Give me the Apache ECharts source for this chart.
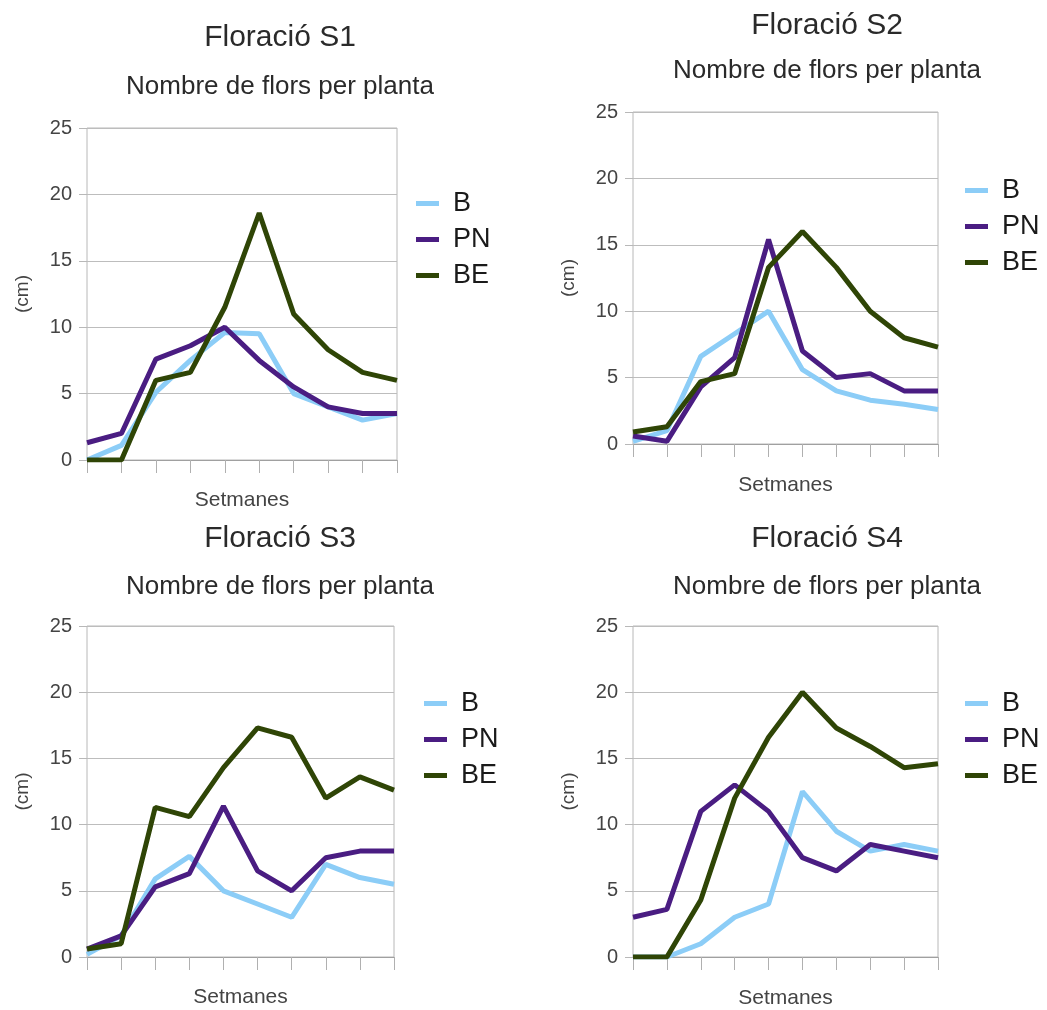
<!DOCTYPE html>
<html>
<head>
<meta charset="utf-8">
<script src="https://cdn.jsdelivr.net/npm/echarts@6/dist/echarts.min.js"></script>
<style>
html,body{margin:0;padding:0;background:#fff;}
#chart{width:1047px;height:1010px;}
</style>
</head>
<body>
<div id="chart"></div>
<script>
// ---- data ----
const weeks = ['1','2','3','4','5','6','7','8','9','10'];
const seriesNames = ['B', 'PN', 'BE'];
const panelTitles = ['Floració S1', 'Floració S2', 'Floració S3', 'Floració S4'];
const subTitle = 'Nombre de flors per planta';
const yTicks = [0, 5, 10, 15, 20, 25];

const s1_B  = [0, 1.1, 5.1, 7.5, 9.6, 9.5, 5.0, 4.0, 3.0, 3.5];
const s1_PN = [1.3, 2.0, 7.6, 8.6, 10.0, 7.5, 5.5, 4.0, 3.5, 3.5];
const s1_BE = [0, 0, 6.0, 6.6, 11.5, 18.6, 11.0, 8.3, 6.6, 6.0];

const s2_B  = [0.2, 1.0, 6.6, 8.3, 10.0, 5.6, 4.0, 3.3, 3.0, 2.6];
const s2_PN = [0.6, 0.2, 4.3, 6.5, 15.4, 7.0, 5.0, 5.3, 4.0, 4.0];
const s2_BE = [0.9, 1.3, 4.7, 5.3, 13.3, 16.0, 13.3, 10.0, 8.0, 7.3];

const s3_B  = [0.2, 1.6, 5.9, 7.6, 5.0, 4.0, 3.0, 7.0, 6.0, 5.5];
const s3_PN = [0.6, 1.6, 5.3, 6.3, 11.4, 6.5, 5.0, 7.5, 8.0, 8.0];
const s3_BE = [0.6, 1.0, 11.3, 10.6, 14.3, 17.3, 16.6, 12.0, 13.6, 12.6];

const s4_B  = [0, 0, 1.0, 3.0, 4.0, 12.5, 9.5, 8.0, 8.5, 8.0];
const s4_PN = [3.0, 3.6, 11.0, 13.0, 11.0, 7.5, 6.5, 8.5, 8.0, 7.5];
const s4_BE = [0, 0, 4.3, 12.0, 16.6, 20.0, 17.3, 15.9, 14.3, 14.6];

const panelData = [
  [s1_B, s1_PN, s1_BE],
  [s2_B, s2_PN, s2_BE],
  [s3_B, s3_PN, s3_BE],
  [s4_B, s4_PN, s4_BE]
];

// ---- layout / style ----
const colors = ['#8ccdf7', '#4a1d82', '#2f4506'];
const FONT = '"Liberation Sans", Arial, sans-serif';
const grids = [
  {left: 87,  top: 128, width: 310, height: 332},
  {left: 633, top: 112, width: 305, height: 332},
  {left: 87,  top: 626, width: 307, height: 331},
  {left: 633, top: 626, width: 305, height: 331}
];
const titlePos = [
  {cx: 280, top: 23, gap: 21},
  {cx: 827, top: 11, gap: 17},
  {cx: 280, top: 524, gap: 20},
  {cx: 827, top: 524, gap: 20}
];
const legendPos = [
  {left: 416, top: 190},
  {left: 965, top: 177},
  {left: 424, top: 690},
  {left: 965, top: 690}
];
const xNameGap = [30, 31, 30, 31];

const option = {
  backgroundColor: '#fff',
  animation: false,
  textStyle: {fontFamily: FONT},
  title: [], legend: [], grid: [], xAxis: [], yAxis: [], series: []
};

for (let i = 0; i < 4; i++) {
  option.grid.push(Object.assign({show: true, borderColor: '#b8b8b8', borderWidth: 1, containLabel: false}, grids[i]));
  option.title.push({
    text: panelTitles[i], subtext: subTitle,
    left: titlePos[i].cx, top: titlePos[i].top, padding: 0,
    textAlign: 'center', itemGap: titlePos[i].gap,
    textStyle: {fontFamily: FONT, fontSize: 30, fontWeight: 'normal', color: '#2a2a2a'},
    subtextStyle: {fontFamily: FONT, fontSize: 26, color: '#2a2a2a'}
  });
  option.legend.push({
    data: seriesNames, orient: 'vertical',
    left: legendPos[i].left, top: legendPos[i].top, padding: 0,
    itemWidth: 23, itemHeight: 5, itemGap: 9, icon: 'rect',
    selectedMode: false,
    textStyle: {fontFamily: FONT, fontSize: 27, lineHeight: 26, color: '#1a1a1a', padding: [0, 0, 0, 9]}
  });
  option.xAxis.push({
    type: 'category', gridIndex: i, data: weeks, boundaryGap: false,
    name: 'Setmanes', nameLocation: 'middle', nameGap: xNameGap[i],
    nameTextStyle: {fontFamily: FONT, fontSize: 21, color: '#444'},
    axisLine: {lineStyle: {color: '#a0a0a0', width: 1}},
    axisTick: {show: true, length: 13, lineStyle: {color: '#b0b0b0'}},
    axisLabel: {show: false},
    splitLine: {show: false}
  });
  option.yAxis.push({
    type: 'value', gridIndex: i, min: 0, max: 25, interval: 5,
    name: '(cm)', nameLocation: 'middle', nameGap: 55, nameRotate: 90,
    nameTextStyle: {fontFamily: FONT, fontSize: 19, color: '#444'},
    axisLine: {show: false},
    axisTick: {show: true, length: 8, lineStyle: {color: '#b8b8b8'}},
    axisLabel: {fontFamily: FONT, fontSize: 20, color: '#444', margin: 15},
    splitLine: {lineStyle: {color: '#bdbdbd', width: 1}}
  });
  for (let k = 0; k < 3; k++) {
    option.series.push({
      name: seriesNames[k], type: 'line',
      xAxisIndex: i, yAxisIndex: i,
      data: panelData[i][k],
      showSymbol: false, symbol: 'none',
      lineStyle: {color: colors[k], width: 5},
      itemStyle: {color: colors[k]},
      z: 2 + k
    });
  }
}

const chart = echarts.init(document.getElementById('chart'), null, {renderer: 'canvas'});
chart.setOption(option);
</script>
</body>
</html>
